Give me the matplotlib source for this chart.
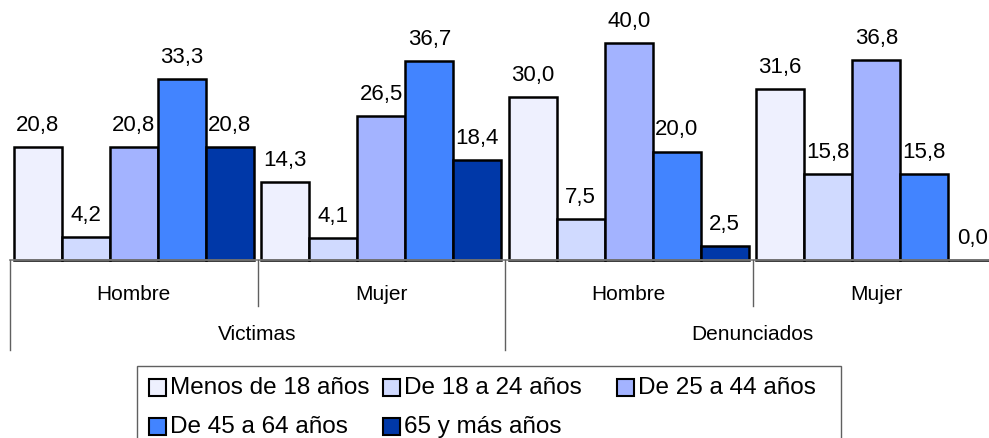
import numpy as np
import matplotlib.pyplot as plt
import matplotlib.transforms as mtransforms
from matplotlib.patches import Rectangle
from matplotlib.lines import Line2D

plt.rcParams['font.family'] = ['Liberation Sans', 'DejaVu Sans']

groups = ['Hombre', 'Mujer', 'Hombre', 'Mujer']
top_groups = ['Victimas', 'Denunciados']
series = ['Menos de 18 años', 'De 18 a 24 años', 'De 25 a 44 años',
          'De 45 a 64 años', '65 y más años']
values = [
    [20.8, 14.3, 30.0, 31.6],   # Menos de 18
    [4.2, 4.1, 7.5, 15.8],      # 18-24
    [20.8, 26.5, 40.0, 36.8],   # 25-44
    [33.3, 36.7, 20.0, 15.8],   # 45-64
    [20.8, 18.4, 2.5, 0.0],     # 65+
]
colors = ['#eef0fe', '#d0daff', '#a3b3ff', '#4284ff', '#0038a8']

W, H = 989, 439
fs = 15
fig = plt.figure(figsize=(W / 100, H / 100), dpi=100)
base_px = 261
ax = fig.add_axes([10 / W, (H - base_px) / H, 990 / W, base_px / H])

x = np.arange(len(groups))
bw = 0.194
for i, (name, vals) in enumerate(zip(series, values)):
    pos = x + (i - 2) * bw
    ax.bar(pos, vals, bw, color=colors[i], edgecolor='black', linewidth=1.8,
           label=name, clip_on=False)
    for p, v in zip(pos, vals):
        ax.annotate(f'{v:.1f}'.replace('.', ','), (p, v), xytext=(0, 17),
                    textcoords='offset pixels', ha='center', va='baseline',
                    fontsize=16, annotation_clip=False)

ax.set_xlim(-0.5, 3.5)
ax.set_ylim(0, base_px / (217 / 40))
for s in ['top', 'left', 'right']:
    ax.spines[s].set_visible(False)
ax.spines['bottom'].set_color('#808080')
ax.spines['bottom'].set_linewidth(1.2)
ax.set_xticks([])
ax.set_yticks([])

# category labels under the axis
trans = mtransforms.blended_transform_factory(ax.transData, fig.transFigure)
def fy(px):
    return 1 - px / H

for g, name in zip(x, groups):
    ax.text(g, fy(294), name, transform=trans, ha='center', va='center', fontsize=fs)
for k, name in enumerate(top_groups):
    ax.text(2 * k + 0.5, fy(335), name, transform=trans, ha='center', va='center', fontsize=fs)

for b in [0.5, 2.5]:
    fig.add_artist(Line2D([b, b], [fy(base_px), fy(307)], transform=trans,
                          color='#606060', lw=1))
for b in [-0.5, 1.5]:
    fig.add_artist(Line2D([b, b], [fy(base_px), fy(351)], transform=trans,
                          color='#606060', lw=1))

# legend: box cut off at the bottom, three equal columns filled row by row
fig.add_artist(Rectangle((137 / W, -0.05), (841 - 137) / W, fy(367) + 0.05,
                         transform=fig.transFigure, fill=False,
                         edgecolor='#606060', lw=1))
sq = 17
for k, (name, c) in enumerate(zip(series, colors)):
    lx = 149 + (k % 3) * 234
    ly = 388 + (k // 3) * 39
    fig.add_artist(Rectangle((lx / W, fy(ly + sq / 2)), sq / W, sq / H,
                             transform=fig.transFigure, facecolor=c,
                             edgecolor='black', lw=1.5))
    fig.text((lx + sq + 4) / W, fy(ly), name, ha='left', va='center', fontsize=17.5)

fig.savefig('out.png', dpi=100)
